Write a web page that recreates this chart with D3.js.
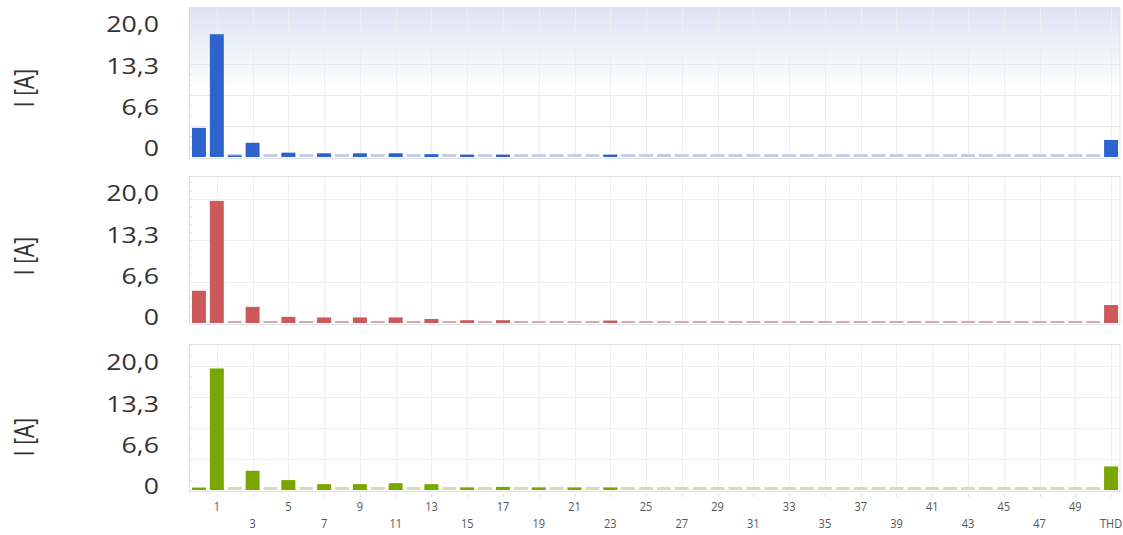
<!DOCTYPE html>
<html>
<head>
<meta charset="utf-8">
<script src="https://cdn.jsdelivr.net/npm/d3@7"></script>
<style>
  html, body { margin: 0; padding: 0; background: #ffffff; }
  svg { display: block; }
</style>
</head>
<body>
<svg id="chart" width="1123" height="535"></svg>
<script>
// ---------------- DATA ----------------
const categories = d3.range(0, 51).map(String).concat(["THD"]);
const tickCategories = categories.filter((c, i) => i % 2 === 1 || c === "THD");
const yTickValues = [0, 6.6, 13.3, 20];
const yTickLabels = ["0", "6,6", "13,3", "20,0"];
const axisTitle = "I [A]";

// Harmonic currents, phase L1 (blue)
const valuesL1 = [4.7, 19.8, 0.25, 2.3, 0, 0.7, 0, 0.6, 0, 0.6, 0, 0.6, 0, 0.45, 0, 0.35, 0, 0.35, 0, 0,
                  0, 0, 0, 0.35, 0, 0, 0, 0, 0, 0, 0, 0, 0, 0, 0, 0, 0, 0, 0, 0,
                  0, 0, 0, 0, 0, 0, 0, 0, 0, 0, 0, 2.75];
// phase L2 (red)
const valuesL2 = [5.2, 19.7, 0, 2.6, 0, 1.0, 0, 0.9, 0, 0.9, 0, 0.9, 0, 0.65, 0, 0.45, 0, 0.45, 0, 0,
                  0, 0, 0, 0.4, 0, 0, 0, 0, 0, 0, 0, 0, 0, 0, 0, 0, 0, 0, 0, 0,
                  0, 0, 0, 0, 0, 0, 0, 0, 0, 0, 0, 2.9];
// phase L3 (green)
const valuesL3 = [0.35, 19.6, 0, 3.1, 0, 1.6, 0, 0.95, 0, 0.95, 0, 1.1, 0, 0.95, 0, 0.4, 0, 0.5, 0, 0.4,
                  0, 0.4, 0, 0.4, 0, 0, 0, 0, 0, 0, 0, 0, 0, 0, 0, 0, 0, 0, 0, 0,
                  0, 0, 0, 0, 0, 0, 0, 0, 0, 0, 0, 3.8];
const gridValuesL1 = [5, 10, 15, 20];
const gridValuesL2 = [6.67, 13.33, 20];
const gridValuesL3 = [5, 10, 15, 20];
const minorStepL1 = 5 / 3, minorStepL2 = 20 / 15, minorStepL3 = 5 / 3;

// ---------------- LAYOUT / STYLE ----------------
const svg = d3.select("#chart");
const left = 190, right = 1120;
const panels = [
  { values: valuesL1, grid: gridValuesL1, minor: minorStepL1, top: 7,   base: 157, labelShift: 8.5,
    color: "#2e63cc", stub: "#c6cde4", stubH: 3, gradient: true, titleY: 88 },
  { values: valuesL2, grid: gridValuesL2, minor: minorStepL2, top: 176, base: 323, labelShift: 5.5,
    color: "#cd5a5a", stub: "#d9a9a9", stubH: 2, gradient: false, titleY: 256 },
  { values: valuesL3, grid: gridValuesL3, minor: minorStepL3, top: 344, base: 490, labelShift: 3.5,
    color: "#7aa600", stub: "#d4dfb6", stubH: 3, gradient: false, titleY: 437 }
];
const pxPerUnit = 6.2;

const x = d3.scaleBand().domain(categories).range([left, right]).paddingInner(0.22).paddingOuter(0.11);

const defs = svg.append("defs");
const grad = defs.append("linearGradient").attr("id", "bgGrad").attr("x1", 0).attr("y1", 0).attr("x2", 0).attr("y2", 1);
grad.append("stop").attr("offset", "0%").attr("stop-color", "#dce3f3");
grad.append("stop").attr("offset", "55%").attr("stop-color", "#ffffff");
grad.append("stop").attr("offset", "100%").attr("stop-color", "#ffffff");

panels.forEach((p) => {
  const y = d3.scaleLinear().domain([0, 20]).range([p.base, p.base - 20 * pxPerUnit]);
  const g = svg.append("g");

  // background + frame
  g.append("rect")
    .attr("x", left - 0.5).attr("y", p.top + 0.5)
    .attr("width", right - left + 0.5).attr("height", p.base - p.top + 1)
    .attr("fill", p.gradient ? "url(#bgGrad)" : "#ffffff")
    .attr("stroke", "#dde1e9").attr("stroke-width", 1);

  // horizontal gridlines
  g.selectAll(".hg").data(p.grid).enter().append("line")
    .attr("x1", left).attr("x2", right)
    .attr("y1", d => Math.round(y(d)) + 0.5).attr("y2", d => Math.round(y(d)) + 0.5)
    .attr("stroke", p.gradient ? "#e6e9f1" : "#efeff2").attr("stroke-width", 1);

  // vertical gridlines at labelled categories
  g.selectAll(".vg").data(tickCategories).enter().append("line")
    .attr("x1", d => Math.round(x(d) + x.bandwidth() / 2) + 0.5)
    .attr("x2", d => Math.round(x(d) + x.bandwidth() / 2) + 0.5)
    .attr("y1", p.top + 1).attr("y2", p.base)
    .attr("stroke", "#eeeef1").attr("stroke-width", 1);

  // left axis line with faint minor ticks
  g.append("line").attr("x1", left - 0.5).attr("x2", left - 0.5).attr("y1", p.top).attr("y2", p.base + 1)
    .attr("stroke", "#d4d8e0");
  const minorVals = d3.range(p.minor, (p.base - p.top) / pxPerUnit, p.minor);
  g.selectAll(".mt").data(minorVals).enter().append("line")
    .attr("x1", left).attr("x2", left + 2)
    .attr("y1", d => Math.round(y(d)) + 0.5).attr("y2", d => Math.round(y(d)) + 0.5)
    .attr("stroke", "#e6e8ed");

  // zero stubs
  g.selectAll(".stub").data(categories).enter().append("rect")
    .attr("x", d => x(d)).attr("width", x.bandwidth())
    .attr("y", p.base - p.stubH).attr("height", p.stubH)
    .attr("fill", p.stub);

  // bars
  g.selectAll(".bar").data(categories.map((c, i) => ({ c, v: p.values[i] })).filter(d => d.v > 0))
    .enter().append("rect")
    .attr("x", d => x(d.c)).attr("width", x.bandwidth())
    .attr("y", d => y(d.v)).attr("height", d => p.base - y(d.v))
    .attr("fill", p.color);

  // y tick labels (drawn with an offset, horizontally widened like the reference)
  g.selectAll(".yl").data(yTickValues).enter().append("text")
    .attr("transform", d => `translate(159,${y(d) - p.labelShift}) scale(1.27,1)`)
    .attr("text-anchor", "end").attr("dy", "0.36em")
    .attr("font-family", "'Open Sans', sans-serif").attr("font-size", 21)
    .attr("fill", "#333333")
    .text((d, i) => yTickLabels[i]);

  // axis title
  g.append("text")
    .attr("transform", `translate(24,${p.titleY}) rotate(-90) scale(1,1.27)`)
    .attr("text-anchor", "middle").attr("dy", "0.36em")
    .attr("font-family", "'Open Sans', sans-serif").attr("font-size", 21)
    .attr("fill", "#333333")
    .text(axisTitle);
});

// x-axis tick marks under the last panel and labels in two staggered rows
const lastBase = panels[2].base;
svg.selectAll(".xt").data(tickCategories).enter().append("line")
  .attr("x1", d => Math.round(x(d) + x.bandwidth() / 2) + 0.5)
  .attr("x2", d => Math.round(x(d) + x.bandwidth() / 2) + 0.5)
  .attr("y1", lastBase + 4).attr("y2", lastBase + 7)
  .attr("stroke", "#e2e2e6");

svg.selectAll(".xl").data(tickCategories).enter().append("text")
  .attr("transform", (d, i) => `translate(${x(d) + x.bandwidth() / 2},${i % 2 === 0 ? 506.5 : 523.5}) scale(0.88,1)`)
  .attr("text-anchor", "middle").attr("dy", "0.36em")
  .attr("font-family", "'Open Sans', sans-serif").attr("font-size", 12.5)
  .attr("fill", "#555555")
  .text(d => d);
</script>
</body>
</html>
